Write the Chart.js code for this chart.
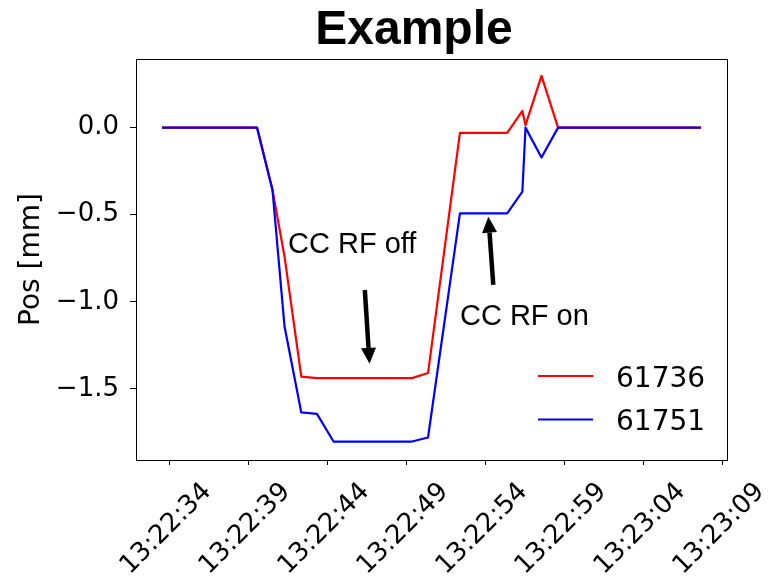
<!DOCTYPE html>
<html>
<head>
<meta charset="utf-8">
<script src="https://cdn.jsdelivr.net/npm/chart.js@4.4.1/dist/chart.umd.min.js"></script>
<style>
  html, body { margin: 0; padding: 0; background: #fff; }
  #wrap { position: relative; width: 777px; height: 579px; }
</style>
</head>
<body>
<div id="wrap"><canvas id="chart"></canvas></div>
<script>
// time = seconds after 13:22:00
const times    = [33.55, 39.56, 40.54, 41.30, 42.36, 43.35, 44.40, 49.37, 50.38, 52.40, 55.39, 56.35, 56.55, 57.56, 58.61, 67.65];
const pos61736 = [0, 0, -0.358, -0.741, -1.429, -1.438, -1.438, -1.438, -1.409, -0.030, -0.030, 0.096, 0.014, 0.297, 0, 0];
const pos61751 = [0, 0, -0.360, -1.142, -1.635, -1.643, -1.802, -1.802, -1.779, -0.492, -0.492, -0.368, 0, -0.171, 0, 0];
const seriesNames = ["61736", "61751"];
const seriesColors = ["#ff0000", "#0000ff"];

const xTickValues = [34, 39, 44, 49, 54, 59, 64, 69];
const xTickLabels = ["13:22:34", "13:22:39", "13:22:44", "13:22:49", "13:22:54", "13:22:59", "13:23:04", "13:23:09"];
const yTickValues = [0, -0.5, -1.0, -1.5];

// annotations, data coords
const noteTexts = ["CC RF off", "CC RF on"];
const noteTextAt = [[41.52, -0.720], [52.40, -1.135]];
const noteArrowFrom = [[46.38, -0.932], [54.51, -0.903]];
const noteArrowTo   = [[46.68, -1.356], [54.20, -0.511]];

const toPts = (ys) => times.map((t, i) => ({ x: t, y: ys[i] }));

function arrow(ctx, x0, y0, x1, y1){
  const ang = Math.atan2(y1 - y0, x1 - x0);
  const hl = 16, hw = 7.5;
  const bx = x1 - hl * Math.cos(ang), by = y1 - hl * Math.sin(ang);
  ctx.lineWidth = 4.5;
  ctx.beginPath(); ctx.moveTo(x0, y0); ctx.lineTo(bx, by); ctx.stroke();
  ctx.beginPath();
  ctx.moveTo(x1, y1);
  ctx.lineTo(bx + hw * Math.sin(ang), by - hw * Math.cos(ang));
  ctx.lineTo(bx - hw * Math.sin(ang), by + hw * Math.cos(ang));
  ctx.closePath(); ctx.fill();
}

const decor = {
  id: "decor",
  afterDraw(chart){
    const { ctx, chartArea: a, scales: { x, y } } = chart;
    ctx.save();
    ctx.fillStyle = "#000";
    ctx.strokeStyle = "#000";

    // frame
    ctx.lineWidth = 1;
    ctx.strokeRect(a.left + 0.5, a.top + 0.5, a.right - a.left, a.bottom - a.top);

    // title
    ctx.font = 'bold 48px "Liberation Sans", Arial, sans-serif';
    ctx.textAlign = "center"; ctx.textBaseline = "alphabetic";
    ctx.fillText("Example", 414, 44);

    // y title
    ctx.save();
    ctx.translate(32, (a.top + a.bottom) / 2);
    ctx.rotate(-Math.PI / 2);
    ctx.font = '28px "DejaVu Sans"';
    ctx.textBaseline = "middle";
    ctx.fillText("Pos [mm]", 0, 0);
    ctx.restore();

    // x tick labels, 45 deg, centred under tick
    ctx.font = '26px "DejaVu Sans"';
    xTickValues.forEach((v, i) => {
      ctx.save();
      ctx.translate(x.getPixelForValue(v) - 3, a.bottom + 69);
      ctx.rotate(-Math.PI / 4);
      ctx.textAlign = "center"; ctx.textBaseline = "middle";
      ctx.fillText(xTickLabels[i], 0, 0);
      ctx.restore();
    });

    // annotations
    ctx.font = '29px "Liberation Sans", Arial, sans-serif';
    ctx.textAlign = "left"; ctx.textBaseline = "alphabetic";
    noteTexts.forEach((t, i) => {
      ctx.fillText(t, x.getPixelForValue(noteTextAt[i][0]), y.getPixelForValue(noteTextAt[i][1]));
      arrow(ctx,
        x.getPixelForValue(noteArrowFrom[i][0]), y.getPixelForValue(noteArrowFrom[i][1]),
        x.getPixelForValue(noteArrowTo[i][0]),   y.getPixelForValue(noteArrowTo[i][1]));
    });

    // legend (lower right)
    ctx.font = '28px "DejaVu Sans"';
    seriesNames.forEach((n, i) => {
      const ly = a.bottom - 84 + i * 43.5;
      ctx.strokeStyle = seriesColors[i];
      ctx.lineWidth = 2;
      ctx.beginPath(); ctx.moveTo(a.right - 189, ly); ctx.lineTo(a.right - 134, ly); ctx.stroke();
      ctx.fillStyle = "#000";
      ctx.fillText(n, a.right - 111, ly + 10.5);
    });
    ctx.restore();
  }
};

new Chart(document.getElementById("chart"), {
  type: "line",
  data: {
    datasets: [
      { label: seriesNames[0], data: toPts(pos61736), borderColor: seriesColors[0], order: 1 },
      { label: seriesNames[1], data: toPts(pos61751), borderColor: seriesColors[1], order: 0 }
    ]
  },
  options: {
    responsive: true,
    maintainAspectRatio: false,
    animation: false,
    layout: { padding: { top: 59, right: 50, left: 0, bottom: 0 } },
    elements: {
      line: { borderWidth: 2.2, tension: 0, fill: false, borderJoinStyle: "round" },
      point: { radius: 0, hoverRadius: 0 }
    },
    plugins: { legend: { display: false }, tooltip: { enabled: false }, title: { display: false } },
    scales: {
      x: {
        type: "linear",
        min: 31.9, max: 69.3,
        afterBuildTicks: s => { s.ticks = xTickValues.map(v => ({ value: v })); },
        afterFit: s => { s.height = 119; },
        ticks: { display: false },
        grid: { drawOnChartArea: false, drawTicks: true, tickLength: 5, tickColor: "#000", tickWidth: 1 },
        border: { color: "#000", width: 1 }
      },
      y: {
        min: -1.908, max: 0.394,
        afterBuildTicks: s => { s.ticks = yTickValues.map(v => ({ value: v })); },
        afterFit: s => { s.width = 136; },
        ticks: {
          color: "#000",
          padding: 11,
          font: { family: "DejaVu Sans", size: 26 },
          callback: v => v.toFixed(1).replace("-", "\u2212")
        },
        grid: { drawOnChartArea: false, drawTicks: true, tickLength: 6, tickColor: "#000", tickWidth: 1 },
        border: { color: "#000", width: 1 }
      }
    }
  },
  plugins: [decor]
});
</script>
</body>
</html>
